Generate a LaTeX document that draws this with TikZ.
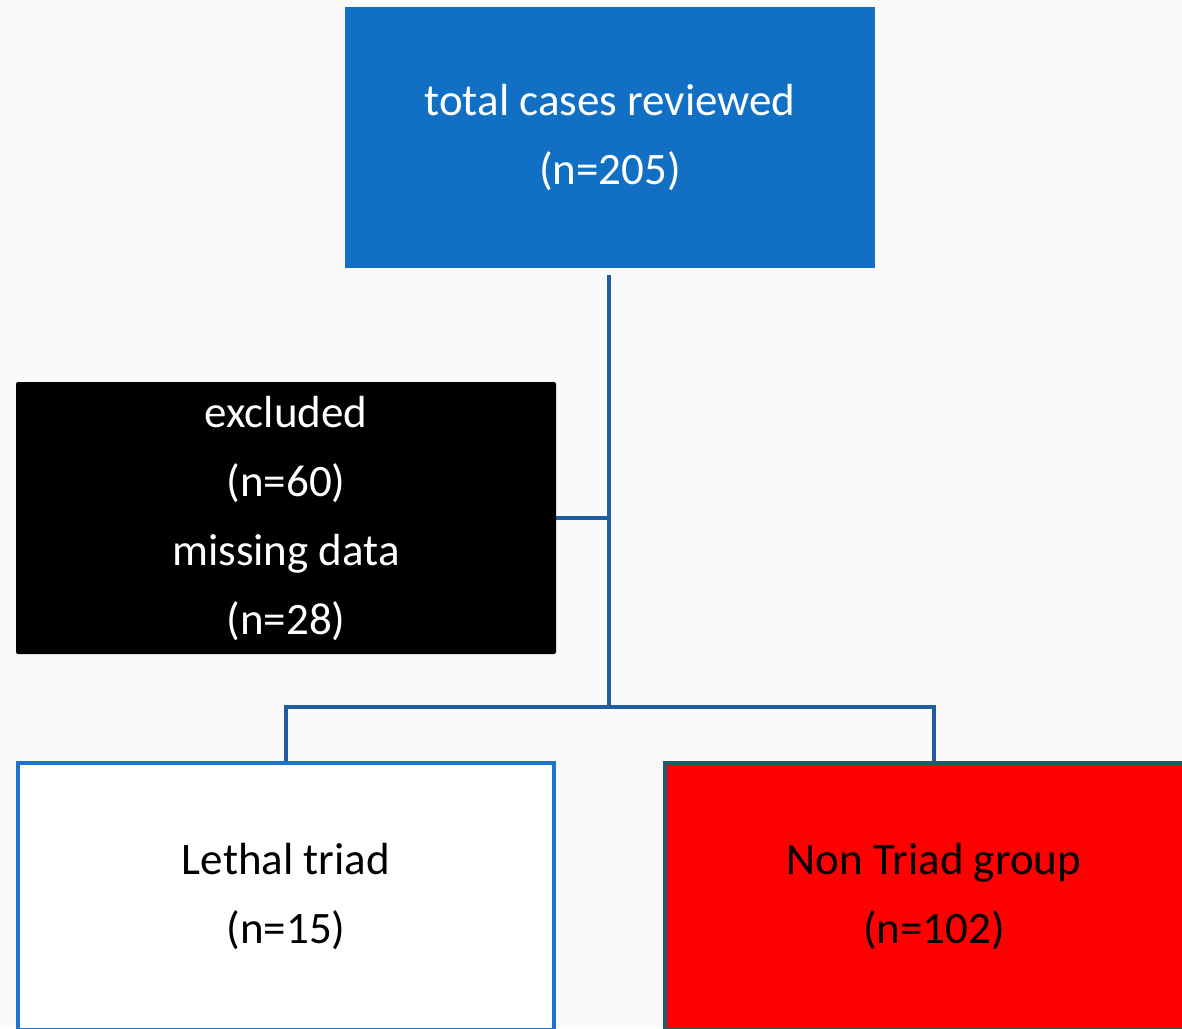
\documentclass[tikz,border=0pt]{standalone}
\usepackage{fontspec}
\setmainfont{Carlito}
\definecolor{topblue}{HTML}{1170C4}
\definecolor{linkblue}{HTML}{1F5CA0}
\definecolor{lethalborder}{HTML}{1E74CC}
\definecolor{nonborder}{HTML}{1A5E6E}
\definecolor{bg}{HTML}{FAFAFA}
\tikzset{
  boxtext/.style={font=\fontsize{45}{69}\selectfont, align=center, inner sep=0pt},
  link/.style={draw=linkblue, line width=4.5pt},
}
\begin{document}
\begin{tikzpicture}[x=1pt,y=-1pt]
\useasboundingbox (0,0) rectangle (1182,1028);
\clip (0,0) rectangle (1182,1028);
\fill[bg] (0,0) rectangle (1182,1028);
\node[boxtext, fill=topblue, text=white, minimum width=530pt, minimum height=261pt] (top) at (610,137.5) {total cases reviewed\\(n=205)};
\node[boxtext, fill=black, text=white, rounded corners=2pt, minimum width=540pt, minimum height=272pt] (excl) at (286,518) {excluded\\(n=60)\\missing data\\(n=28)};
\node[boxtext, fill=white, draw=lethalborder, line width=4pt, text=black, minimum width=536pt, minimum height=267pt] (lethal) at (286,896.5) {Lethal triad\\(n=15)};
\node[boxtext, fill=red, draw=nonborder, line width=4pt, text=black, minimum width=538pt, minimum height=267pt] (non) at (934,896.5) {Non Triad group\\(n=102)};
\coordinate (split) at (609,707);
\coordinate (exj) at (609,518);
\draw[link] ([yshift=-7pt]top.south -| split) -- (split);
\draw[link] (excl.east) -- (exj);
\draw[link] (lethal.north) |- (split) -| (non.north);
\end{tikzpicture}
\end{document}
